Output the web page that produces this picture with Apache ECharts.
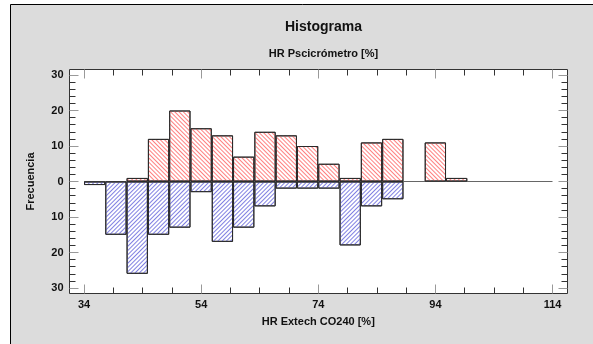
<!DOCTYPE html>
<html>
<head>
<meta charset="utf-8">
<script src="https://cdn.jsdelivr.net/npm/echarts@6/dist/echarts.min.js"></script>
<style>html,body{margin:0;padding:0;background:#fff;}#c{width:593px;height:344px;}</style>
</head>
<body>
<div id="c"></div>
<script>
// Bin lower / upper edges (HR Extech CO240 [%])
var binLow  = [34.00, 37.64, 41.27, 44.91, 48.55, 52.18, 55.82, 59.45, 63.09, 66.73, 70.36,
               74.00, 77.64, 81.27, 84.91, 88.55, 92.18, 95.82, 99.45, 103.09, 106.73, 110.36];
var binHigh = [37.64, 41.27, 44.91, 48.55, 52.18, 55.82, 59.45, 63.09, 66.73, 70.36, 74.00,
               77.64, 81.27, 84.91, 88.55, 92.18, 95.82, 99.45, 103.09, 106.73, 110.36, 114.00];
// Frequencies: HR Pscicrómetro (top, red) and HR Extech CO240 (bottom, blue)
var freqTop    = [0, 0, 1, 12, 20, 15, 13, 7, 14, 13, 10, 5, 1, 11, 12, 0, 11, 1, 0, 0, 0, 0];
var freqBottom = [1, 15, 26, 15, 13, 3, 17, 13, 7, 2, 2, 2, 18, 7, 5, 0, 0, 0, 0, 0, 0, 0];

// [bin centre, signed frequency]; zero bins are left empty
function buildData(freq, sign) {
  var out = [];
  for (var i = 0; i < freq.length; i++) {
    out.push(freq[i] > 0 ? [(binLow[i] + binHigh[i]) / 2, sign * freq[i]] : [(binLow[i] + binHigh[i]) / 2, '-']);
  }
  return out;
}

function hatch(color, rot) {
  return {symbol: 'rect', symbolSize: 1, dashArrayX: [1, 0], dashArrayY: [1, 2],
          rotation: rot, color: color, backgroundColor: null};
}

var font = '"Liberation Sans", Arial, sans-serif';
var lbl = {color: '#111', fontFamily: font, fontWeight: 'bold', fontSize: 11};

var chart = echarts.init(document.getElementById('c'), null, {renderer: 'canvas'});
var xCommon = {
  type: 'value', min: 34, max: 114, interval: 20,
  axisLine: {show: false, onZero: false}, splitLine: {show: false},
  axisTick: {inside: true, length: 9, lineStyle: {color: '#999'}},
  minorTick: {show: true, splitNumber: 4, length: 6, lineStyle: {color: '#333'}}
};
var yCommon = {
  type: 'value', min: -30, max: 30, interval: 10,
  axisLine: {show: false, onZero: false}, splitLine: {show: false},
  axisTick: {inside: true, length: 9, lineStyle: {color: '#999'}},
  minorTick: {show: true, splitNumber: 5, length: 6, lineStyle: {color: '#333'}}
};
chart.setOption({
  animation: false,
  backgroundColor: '#ffffff',
  color: ['#ffffff', '#ffffff', '#666666'],
  graphic: [
    {type: 'rect', z: -10, shape: {x: 10.5, y: 4.5, width: 700, height: 500},
     style: {fill: '#dcdcdc', stroke: '#000', lineWidth: 1}},
    {type: 'rect', z: -5, shape: {x: 69.5, y: 69.5, width: 498, height: 224},
     style: {fill: '#ffffff', stroke: '#333', lineWidth: 1}}
  ],
  title: [
    {text: 'Histograma', left: 318.5, top: 15, textAlign: 'center',
     textStyle: {fontFamily: font, fontWeight: 'bold', fontSize: 14, color: '#111'}},
    {text: 'HR Pscicrómetro [%]', left: 318.5, top: 43, textAlign: 'center',
     textStyle: {fontFamily: font, fontWeight: 'bold', fontSize: 11, color: '#111'}}
  ],
  grid: {left: 84, right: 40.5, top: 75, bottom: 56},
  xAxis: [
    Object.assign({}, xCommon, {position: 'bottom', offset: 5.5,
      axisLabel: Object.assign({margin: 6}, lbl),
      name: 'HR Extech CO240 [%]', nameLocation: 'middle', nameGap: 23,
      nameTextStyle: lbl}),
    Object.assign({}, xCommon, {position: 'top', offset: 5.5, axisLabel: {show: false}})
  ],
  yAxis: [
    Object.assign({}, yCommon, {position: 'left', offset: 14.5,
      axisLabel: Object.assign({margin: 6, formatter: function (v) { return Math.abs(v); }}, lbl),
      name: 'Frecuencia', nameLocation: 'middle', nameGap: 33, nameTextStyle: lbl}),
    Object.assign({}, yCommon, {position: 'right', offset: 15, axisLabel: {show: false}})
  ],
  series: [
    {type: 'bar', name: 'HR Pscicrómetro', data: buildData(freqTop, 1),
     barWidth: '100%', barGap: '-100%', z: 3,
     itemStyle: {color: '#ffffff', borderColor: '#2a2a2a', borderWidth: 1,
                 decal: hatch('#ff8080', Math.PI / 4)}},
    {type: 'bar', name: 'HR Extech CO240', data: buildData(freqBottom, -1),
     barWidth: '100%', barGap: '-100%', z: 3,
     itemStyle: {color: '#ffffff', borderColor: '#2a2a2a', borderWidth: 1,
                 decal: hatch('#8080e2', -Math.PI / 4)}},
    {type: 'line', data: [[34, 0], [114, 0]], symbol: 'none', z: 1,
     lineStyle: {color: '#666', width: 1}, silent: true}
  ]
});
</script>
</body>
</html>
